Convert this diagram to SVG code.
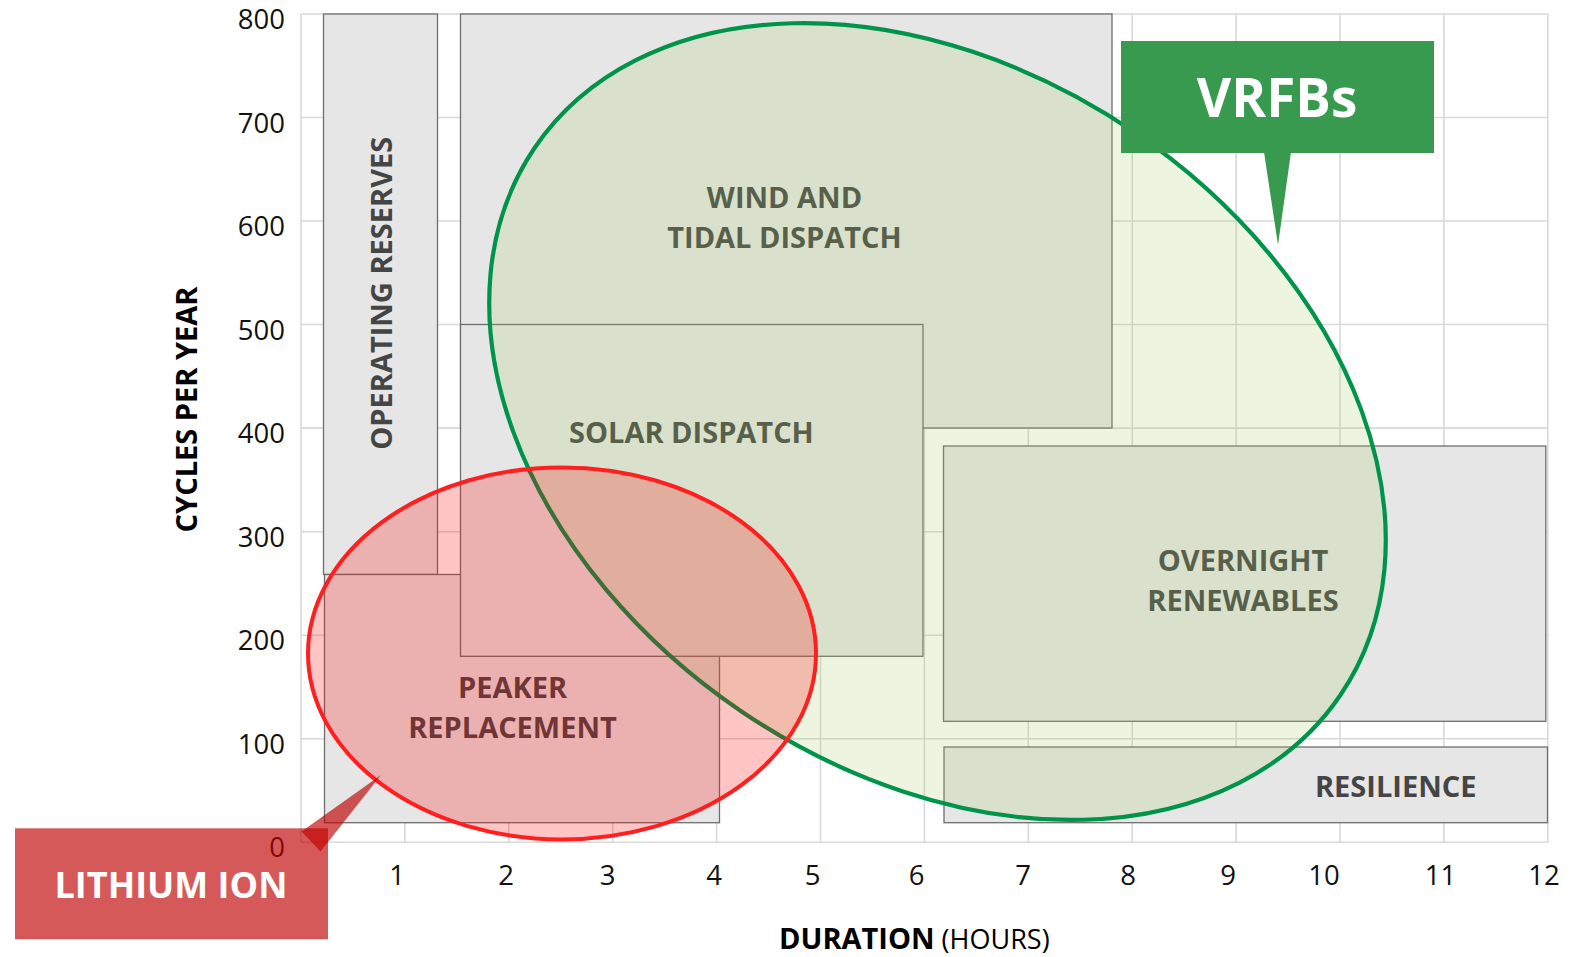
<svg xmlns="http://www.w3.org/2000/svg" width="1585" height="957" viewBox="0 0 1585 957">
<style>
.grid{stroke:#d9d9d9;stroke-width:1.6;fill:none}
.zone{fill:#e6e6e6;stroke:#6e6e6e;stroke-width:1.3}
.zl{font-family:"Open Sans","Liberation Sans",sans-serif;font-weight:700;font-size:29px;fill:#454545;text-anchor:middle}
.tick{font-family:"Open Sans","Liberation Sans",sans-serif;font-size:27.5px;fill:#111}
.ty{text-anchor:end}
.tx{text-anchor:middle}
.ax{font-family:"Open Sans","Liberation Sans",sans-serif;font-size:29px;fill:#000}
.call{font-family:"Open Sans","Liberation Sans",sans-serif;font-weight:700;fill:#fff;text-anchor:middle}
.redc{fill:#c00000;fill-opacity:0.65}
.grnc{fill:#379a4f}
</style>
<rect width="1585" height="957" fill="#fff"/>
<g id="grid">
<path class="grid" d="M301 14H1548M301 117.5H1548M301 221H1548M301 324.5H1548M301 428.1H1548M301 531.7H1548M301 635.2H1548M301 738.8H1548M301 842.3H1548"/>
<path class="grid" d="M301 14V842.3M404.9 14V842.3M508.8 14V842.3M612.7 14V842.3M716.6 14V842.3M820.5 14V842.3M924.4 14V842.3M1028.3 14V842.3M1132.2 14V842.3M1236.1 14V842.3M1340 14V842.3M1443.9 14V842.3M1547.8 14V842.3"/>
</g>
<g id="axes">
<text class="tick ty" x="285" y="29">800</text>
<text class="tick ty" x="285" y="132.5">700</text>
<text class="tick ty" x="285" y="236">600</text>
<text class="tick ty" x="285" y="339.5">500</text>
<text class="tick ty" x="285" y="443">400</text>
<text class="tick ty" x="285" y="546.5">300</text>
<text class="tick ty" x="285" y="650">200</text>
<text class="tick ty" x="285" y="753.5">100</text>
<text class="tick ty" x="285" y="856.5">0</text>
<text class="tick tx" x="397" y="885">1</text>
<text class="tick tx" x="506" y="885">2</text>
<text class="tick tx" x="607.5" y="885">3</text>
<text class="tick tx" x="714" y="885">4</text>
<text class="tick tx" x="812.5" y="885">5</text>
<text class="tick tx" x="916.7" y="885">6</text>
<text class="tick tx" x="1023" y="885">7</text>
<text class="tick tx" x="1128" y="885">8</text>
<text class="tick tx" x="1228" y="885">9</text>
<text class="tick tx" x="1324" y="885">10</text>
<text class="tick tx" x="1440.6" y="885">11</text>
<text class="tick tx" x="1544" y="885">12</text>
<text class="ax" font-weight="700" text-anchor="middle" transform="translate(196.5 409.5) rotate(-90)">CYCLES PER YEAR</text>
<text class="ax" x="779" y="949"><tspan font-weight="700">DURATION</tspan><tspan font-size="27"> (HOURS)</tspan></text>
</g>
<g id="operating-reserves">
<rect class="zone" x="323.5" y="14" width="114" height="560.5"/>
<text class="zl" font-size="30" transform="translate(391.5 293.3) rotate(-90)">OPERATING RESERVES</text>
</g>
<g id="wind-tidal-dispatch">
<rect class="zone" x="460.5" y="14" width="651.5" height="414"/>
<text class="zl" x="784.5" y="208.3">WIND AND</text>
<text class="zl" x="784.5" y="248.3">TIDAL DISPATCH</text>
</g>
<g id="peaker-replacement">
<rect class="zone" x="324.5" y="574.5" width="395" height="248.2"/>
<text class="zl" x="512.5" y="697.7">PEAKER</text>
<text class="zl" x="512.5" y="737.7">REPLACEMENT</text>
</g>
<g id="solar-dispatch">
<rect class="zone" x="460.5" y="324.5" width="462.5" height="331.8"/>
<text class="zl" x="691.4" y="442.5">SOLAR DISPATCH</text>
</g>
<g id="overnight-renewables">
<rect class="zone" x="943.5" y="446" width="602.3" height="275.3"/>
<text class="zl" x="1243" y="571">OVERNIGHT</text>
<text class="zl" x="1243" y="611">RENEWABLES</text>
</g>
<g id="resilience">
<rect class="zone" x="944" y="747" width="603.5" height="75.7"/>
<text class="zl" x="1395.7" y="797.3">RESILIENCE</text>
</g>
<g id="vrfbs-region">
<ellipse cx="937.5" cy="421.5" rx="487" ry="350" transform="rotate(34.2 937.5 421.5)" fill="#a5cb62" fill-opacity="0.2" stroke="#00934a" stroke-width="4.2"/>
</g>
<g id="lithium-ion-region">
<ellipse cx="562" cy="653.4" rx="254" ry="186" fill="#ff0000" fill-opacity="0.23" stroke="#ff1f1f" stroke-width="4"/>
</g>
<g id="connectors">
<polygon class="grnc" points="1264,152 1291,152 1278,245"/>
<polygon class="redc" points="381,775 301.5,831.5 320.5,851.5"/>
</g>
<g id="vrfbs-callout">
<rect class="grnc" x="1121" y="41" width="313" height="112"/>
<text class="call" x="1277" y="117.3" font-size="53">VRFBs</text>
</g>
<g id="lithium-ion-callout">
<rect class="redc" x="15" y="828.3" width="313" height="111"/>
<text class="call" x="171" y="897.7" font-size="36">LITHIUM ION</text>
</g>
</svg>
